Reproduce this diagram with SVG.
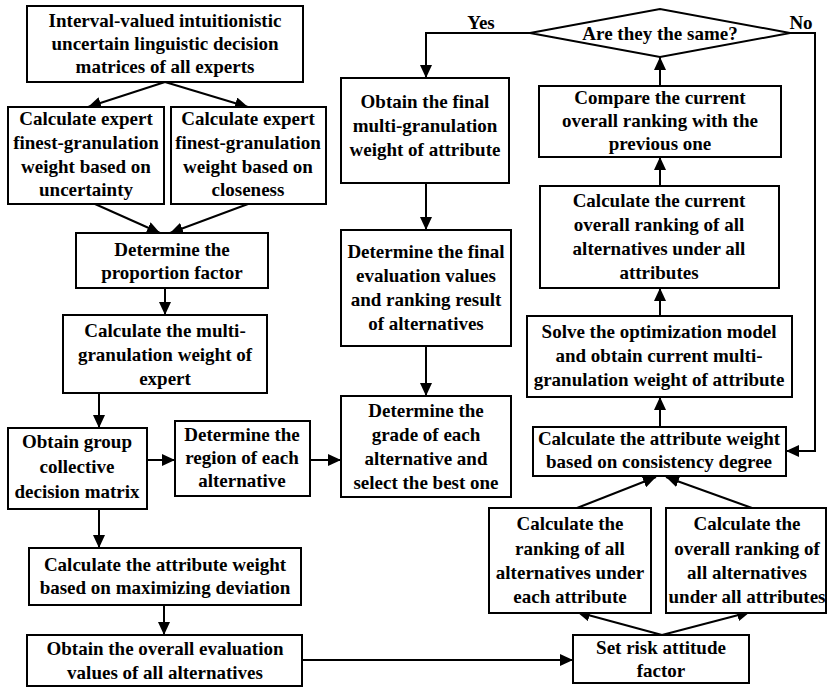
<svg xmlns="http://www.w3.org/2000/svg" width="828" height="688" viewBox="0 0 828 688">
<defs>
<marker id="ah" markerUnits="userSpaceOnUse" markerWidth="14" markerHeight="12" refX="13" refY="6" orient="auto">
<path d="M0,0 L13,6 L0,12 z" fill="#000"/>
</marker>
<style>
rect, polygon.d { fill: #fff; stroke: #000; stroke-width: 2; }
text { font-family: "Liberation Serif", "Times New Roman", serif; font-size: 19px; font-weight: bold; fill: #000; text-anchor: middle; }
.c line, .c polyline, .c path { fill: none; stroke: #000; stroke-width: 2; }
.a { marker-end: url(#ah); }
</style>
</defs>
<rect x="0" y="0" width="828" height="688" style="fill:#fff;stroke:none"/>

<g class="c" id="connectors">
<line class="a" x1="165" y1="82" x2="88" y2="107"/>
<line class="a" x1="165" y1="82" x2="248" y2="107"/>
<line class="a" x1="95" y1="204" x2="160" y2="233"/>
<line class="a" x1="248" y1="204" x2="170" y2="233"/>
<line class="a" x1="165" y1="288" x2="165" y2="315"/>
<line class="a" x1="99" y1="393" x2="99" y2="428"/>
<line class="a" x1="147" y1="460" x2="175" y2="460"/>
<line class="a" x1="310" y1="460" x2="341" y2="460"/>
<line class="a" x1="99" y1="509" x2="99" y2="548"/>
<line class="a" x1="164" y1="605" x2="164" y2="635"/>
<line class="a" x1="302" y1="660" x2="573" y2="660"/>
<line class="a" x1="662" y1="635" x2="577" y2="612"/>
<line class="a" x1="662" y1="635" x2="750" y2="612"/>
<line class="a" x1="577" y1="508" x2="656" y2="477"/>
<line class="a" x1="752" y1="508" x2="666" y2="477"/>
<line class="a" x1="660" y1="427" x2="660" y2="397"/>
<line class="a" x1="660" y1="316" x2="660" y2="288"/>
<line class="a" x1="660" y1="186" x2="660" y2="157"/>
<line class="a" x1="660" y1="86" x2="660" y2="57"/>
<polyline class="a" points="530,33 426,33 426,78"/>
<polyline class="a" points="790,33 815,33 815,451 786,451"/>
<line class="a" x1="426" y1="183" x2="426" y2="230"/>
<line class="a" x1="426" y1="346" x2="426" y2="396"/>
<text x="481" y="29">Yes</text>
<text x="801" y="29">No</text>
</g>

<g id="n1"><rect x="27" y="6" width="276" height="76"/>
<text x="165" y="27">Interval-valued intuitionistic</text><text x="165" y="50">uncertain linguistic decision</text><text x="165" y="73">matrices of all experts</text></g>

<g id="n2"><rect x="8" y="107" width="156" height="97"/>
<text x="86" y="125">Calculate expert</text><text x="86" y="149">finest-granulation</text><text x="86" y="173">weight based on</text><text x="86" y="196">uncertainty</text></g>

<g id="n3"><rect x="171" y="107" width="155" height="97"/>
<text x="248" y="125">Calculate expert</text><text x="248" y="149">finest-granulation</text><text x="248" y="173">weight based on</text><text x="248" y="196">closeness</text></g>

<g id="n4"><rect x="76" y="233" width="192" height="55"/>
<text x="172" y="256">Determine the</text><text x="172" y="279">proportion factor</text></g>

<g id="n5"><rect x="63" y="315" width="204" height="78"/>
<text x="165" y="337">Calculate the multi-</text><text x="165" y="361">granulation weight of</text><text x="165" y="385">expert</text></g>

<g id="n6"><rect x="8" y="428" width="139" height="81"/>
<text x="77" y="448">Obtain group</text><text x="77" y="473">collective</text><text x="77" y="498">decision matrix</text></g>

<g id="n7"><rect x="175" y="421" width="135" height="75"/>
<text x="242" y="441">Determine the</text><text x="242" y="464">region of each</text><text x="242" y="487">alternative</text></g>

<g id="n8"><rect x="341" y="396" width="170" height="101"/>
<text x="426" y="417">Determine the</text><text x="426" y="441">grade of each</text><text x="426" y="465">alternative and</text><text x="426" y="489">select the best one</text></g>

<g id="n9"><rect x="29" y="548" width="272" height="57"/>
<text x="165" y="571">Calculate the attribute weight</text><text x="165" y="594">based on maximizing deviation</text></g>

<g id="n10"><rect x="27" y="635" width="275" height="51"/>
<text x="165" y="655">Obtain the overall evaluation</text><text x="165" y="679">values of all alternatives</text></g>

<g id="n11"><rect x="573" y="635" width="176" height="48"/>
<text x="661" y="654">Set risk attitude</text><text x="661" y="677">factor</text></g>

<g id="n12"><rect x="489" y="508" width="162" height="105"/>
<text x="570" y="530">Calculate the</text><text x="570" y="555">ranking of all</text><text x="570" y="579">alternatives under</text><text x="570" y="603">each attribute</text></g>

<g id="n13"><rect x="666" y="508" width="160" height="105"/>
<text x="747" y="530">Calculate the</text><text x="747" y="555">overall ranking of</text><text x="747" y="579">all alternatives</text><text x="747" y="603">under all attributes</text></g>

<g id="n14"><rect x="533" y="427" width="253" height="49"/>
<text x="659" y="445">Calculate the attribute weight</text><text x="659" y="468">based on consistency degree</text></g>

<g id="n15"><rect x="527" y="316" width="265" height="81"/>
<text x="659" y="338">Solve the optimization model</text><text x="659" y="362">and obtain current multi-</text><text x="659" y="386">granulation weight of attribute</text></g>

<g id="n16"><rect x="540" y="186" width="239" height="102"/>
<text x="659" y="207">Calculate the current</text><text x="659" y="231">overall ranking of all</text><text x="659" y="255">alternatives under all</text><text x="659" y="279">attributes</text></g>

<g id="n17"><rect x="539" y="86" width="242" height="71"/>
<text x="660" y="104">Compare the current</text><text x="660" y="127">overall ranking with the</text><text x="660" y="150">previous one</text></g>

<g id="n18"><rect x="341" y="78" width="168" height="105"/>
<text x="425" y="108">Obtain the final</text><text x="425" y="132">multi-granulation</text><text x="425" y="156">weight of attribute</text></g>

<g id="n19"><rect x="341" y="230" width="170" height="116"/>
<text x="426" y="258">Determine the final</text><text x="426" y="282">evaluation values</text><text x="426" y="306">and ranking result</text><text x="426" y="330">of alternatives</text></g>

<g id="n20"><polygon class="d" points="530,33 660,9 790,33 660,57"/>
<text x="660" y="40">Are they the same?</text></g>
</svg>
